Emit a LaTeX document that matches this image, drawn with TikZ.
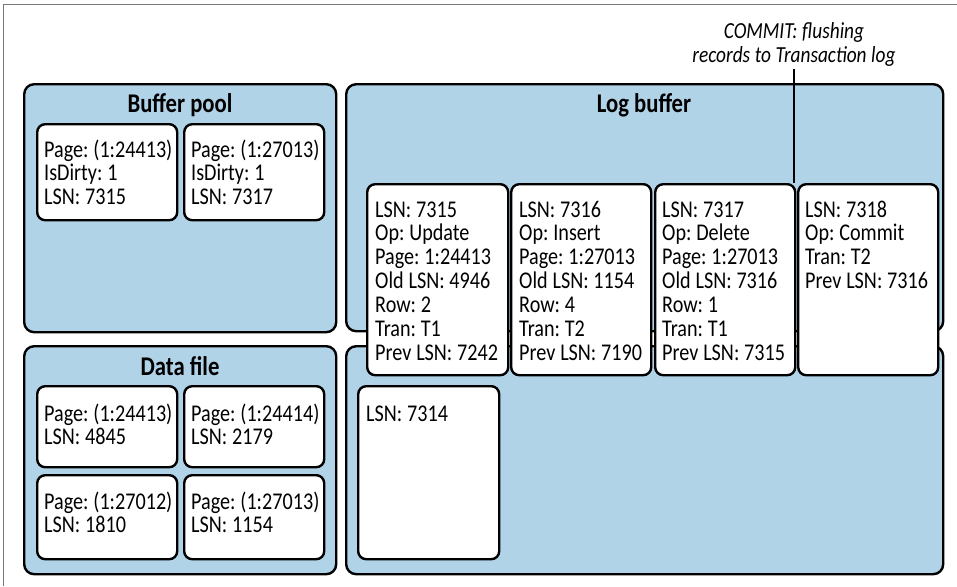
\documentclass[tikz,border=0pt]{standalone}
\usepackage{fontspec}
\setmainfont{Carlito}[FakeStretch=0.84]
\frenchspacing
\usetikzlibrary{positioning}
\definecolor{PoolBlue}{RGB}{177,211,232}
\definecolor{FrameGray}{RGB}{120,120,120}

\begin{document}
\begin{tikzpicture}[x=1pt, y=-1pt,
        area/.style={draw, line width=2.4pt, rounded corners=10pt, fill=PoolBlue,
                                anchor=north west, inner sep=0pt},
        card/.style={draw, line width=2.4pt, rounded corners=8pt, fill=white,
                                anchor=north west, inner sep=0pt, minimum width=140pt},
        txt/.style={anchor=base west, inner sep=0pt, text width=138pt, align=left,
                                font=\fontsize{24}{23.9}\selectfont,
                                execute at begin node={\spaceskip=0.2em\relax}},
        title/.style={anchor=base, inner sep=0pt, font=\fontsize{27}{28}\selectfont\bfseries},
        note/.style={anchor=base, inner sep=0pt, text width=240pt, align=center,
                                font=\fontsize{23}{24}\selectfont\itshape,
                                execute at begin node={\spaceskip=0.2em\relax}}
]
    \useasboundingbox (0,0) rectangle (957,586);
    \draw[FrameGray, line width=1pt] (3,586) |- (957,5);

    % the four areas
    \node[area, minimum width=312pt, minimum height=248pt] (pool)     at (23,83)   {};
    \node[area, minimum width=597pt, minimum height=247pt] (logbuf)   at (345,83)  {};
    \node[area, minimum width=312pt, minimum height=228pt] (datafile) at (23,345)  {};
    \node[area, minimum width=597pt, minimum height=228pt] (translog) at (345,345) {};

    \node[title] (pooltitle) at (180,112) {Buffer pool};
    \node[title] (logtitle)  at (644,112) {Log buffer};
    \node[title] (datatitle) at (180,375) {Data file};

    % buffer pool pages
    \node[card, minimum height=96pt] (bp1) at (36,123)  {};
    \node[card, minimum height=96pt] (bp2) at (183,123) {};
    \node[txt] (bp1txt) at (44,157)  {Page: (1:24413)\\IsDirty: 1\\LSN: 7315};
    \node[txt] (bp2txt) at (191,157) {Page: (1:27013)\\IsDirty: 1\\LSN: 7317};

    % data file pages
    \node[card, minimum height=81pt] (df1) at (36,385)  {};
    \node[card, minimum height=81pt] (df2) at (183,385) {};
    \node[card, minimum height=84pt] (df3) at (36,474)  {};
    \node[card, minimum height=84pt] (df4) at (183,474) {};
    \node[txt] (df1txt) at (44,421)  {Page: (1:24413)\\LSN: 4845};
    \node[txt] (df2txt) at (191,421) {Page: (1:24414)\\LSN: 2179};
    \node[txt] (df3txt) at (44,509)  {Page: (1:27012)\\LSN: 1810};
    \node[txt] (df4txt) at (191,509) {Page: (1:27013)\\LSN: 1154};

    % transaction log
    \node[card, minimum width=141pt, minimum height=173pt] (rec0) at (357,385) {};
    \node[txt] (rec0txt) at (366,421) {LSN: 7314};

    % log records
    \node[card, minimum width=141pt, minimum height=191pt] (rec1) at (366,183) {};
    \node[card, minimum height=191pt] (rec2) at (510,183) {};
    \node[card, minimum height=191pt] (rec3) at (654,183) {};
    \node[card, minimum height=191pt] (rec4) at (797,183) {};
    \node[txt] (rec1txt) at (375,217) {LSN: 7315\\Op: Update\\Page: 1:24413\\Old LSN: 4946\\Row: 2\\Tran: T1\\Prev LSN: 7242};
    \node[txt] (rec2txt) at (519,217) {LSN: 7316\\Op: Insert\\Page: 1:27013\\Old LSN: 1154\\Row: 4\\Tran: T2\\Prev LSN: 7190};
    \node[txt] (rec3txt) at (662,217) {LSN: 7317\\Op: Delete\\Page: 1:27013\\Old LSN: 7316\\Row: 1\\Tran: T1\\Prev LSN: 7315};
    \node[txt] (rec4txt) at (805,217) {LSN: 7318\\Op: Commit\\Tran: T2\\Prev LSN: 7316};

    % commit marker
    \node[note] (commit) at (794,39) {COMMIT: flushing\\records to Transaction log};
    \draw[line width=1.6pt] (commit.south) ++(0,-2pt) -- (commit.south |- rec4.north);
\end{tikzpicture}
\end{document}
